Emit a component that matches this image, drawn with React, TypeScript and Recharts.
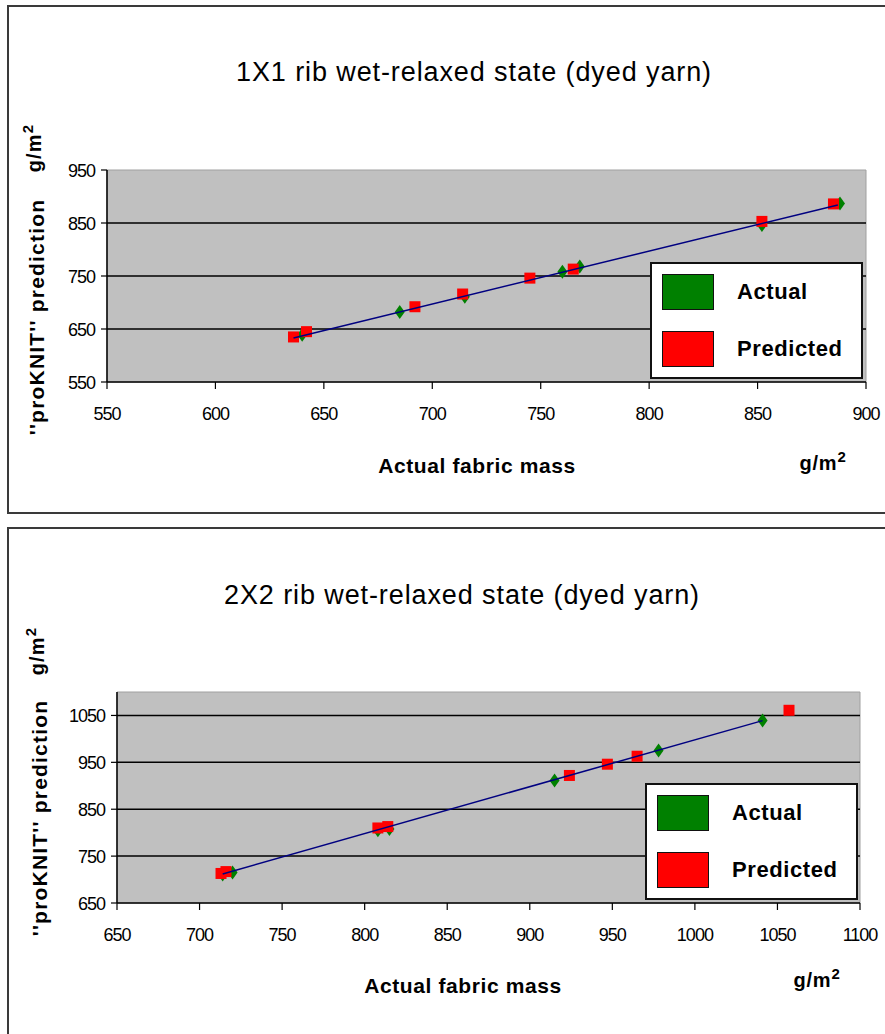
import { ScatterChart, Scatter, XAxis, YAxis, ReferenceLine, ReferenceArea, Legend } from 'recharts'

const FONT = '"Liberation Sans", Arial, sans-serif'

type Pt = { x: number; y: number }

// 1X1 rib
const ribOneTitle = '1X1 rib wet-relaxed state (dyed yarn)'
const ribOneXTicks = [550, 600, 650, 700, 750, 800, 850, 900]
const ribOneYTicks = [550, 650, 750, 850, 950]
const ribOneYTop = 950
const ribOneGrid = [650, 750, 850]
const ribOneActual: Pt[] = [
  { x: 640, y: 639 }, { x: 685, y: 682 }, { x: 715, y: 711 }, { x: 760, y: 758 },
  { x: 768, y: 768 }, { x: 852, y: 846 }, { x: 888, y: 887 },
]
const ribOnePredicted: Pt[] = [
  { x: 636, y: 635 }, { x: 642, y: 645 }, { x: 692, y: 692 }, { x: 714, y: 716 },
  { x: 745, y: 746 }, { x: 765, y: 763 }, { x: 852, y: 853 }, { x: 885, y: 886 },
]
const ribOneTrend: Pt[] = [{ x: 636, y: 633 }, { x: 887, y: 884 }]

// 2X2 rib
const ribTwoTitle = '2X2 rib wet-relaxed state (dyed yarn)'
const ribTwoXTicks = [650, 700, 750, 800, 850, 900, 950, 1000, 1050, 1100]
const ribTwoYTicks = [650, 750, 850, 950, 1050]
const ribTwoYTop = 1100
const ribTwoGrid = [750, 850, 950, 1050]
const ribTwoActual: Pt[] = [
  { x: 714, y: 711 }, { x: 720, y: 715 }, { x: 808, y: 805 }, { x: 815, y: 808 },
  { x: 915, y: 911 }, { x: 978, y: 975 }, { x: 1041, y: 1039 },
]
const ribTwoPredicted: Pt[] = [
  { x: 713, y: 713 }, { x: 716, y: 717 }, { x: 808, y: 810 }, { x: 814, y: 813 },
  { x: 924, y: 922 }, { x: 947, y: 946 }, { x: 965, y: 963 }, { x: 1057, y: 1061 },
]
const ribTwoTrend: Pt[] = [{ x: 714, y: 712 }, { x: 1041, y: 1039 }]

const X_LABEL = 'Actual fabric mass'
const Y_LABEL = "''proKNIT'' prediction"

const diamond = (p: any) => (
  <polygon points={`${p.cx},${p.cy - 7} ${p.cx + 5},${p.cy} ${p.cx},${p.cy + 7} ${p.cx - 5},${p.cy}`} fill={p.fill} />
)
const square = (p: any) => <rect x={p.cx - 5.5} y={p.cy - 5.5} width={11} height={11} fill={p.fill} />
const nothing = () => <g />

const XTick = (p: any) => (
  <text x={p.x} y={p.y} dy={13} textAnchor="middle" fontFamily={FONT} fontSize={18} letterSpacing={-1} fill="#000">
    {p.payload.value}
  </text>
)
const YTick = (p: any) => (
  <text x={p.x} y={p.y} dy={6.5} textAnchor="end" fontFamily={FONT} fontSize={18} letterSpacing={-1} fill="#000">
    {p.payload.value}
  </text>
)

const LegendBox = (props: any) => {
  const items = (props.payload || []).filter((e: any) => e.type !== 'none')
  return (
    <div style={{ width: 213, height: 117, boxSizing: 'border-box', border: '2px solid #111', background: '#fff', position: 'relative' }}>
      {items.map((e: any, i: number) => (
        <div key={e.value} style={{ position: 'absolute', left: 10, top: 9 + i * 57, height: 37, display: 'flex', alignItems: 'center' }}>
          <div style={{ width: 52, height: 36, boxSizing: 'border-box', background: e.color, border: '1.5px solid #111' }} />
          <span style={{ marginLeft: 23, fontFamily: FONT, fontWeight: 'bold', fontSize: 22, letterSpacing: 0.6, color: '#000' }}>{e.value}</span>
        </div>
      ))}
    </div>
  )
}

const Txt = ({ x, y, size, bold, spacing = 0, rotate = false, children }: any) => (
  <div
    style={{
      position: 'absolute', left: x, top: y, whiteSpace: 'nowrap', lineHeight: 1,
      transform: `translate(-50%,-50%)${rotate ? ' rotate(-90deg)' : ''}`,
      fontFamily: FONT, fontSize: size, fontWeight: bold ? 'bold' : 'normal', letterSpacing: spacing, color: '#000',
    }}
  >
    {children}
  </div>
)

const Unit = () => (
  <>g/m<span style={{ fontSize: '0.75em', position: 'relative', top: '-0.55em' }}>2</span></>
)

function RibChart({ top, height, margin, xTicks, yTicks, yTop, grid, actual, predicted, trend, legendLeft, legendTop }: any) {
  const xMin = xTicks[0], xMax = xTicks[xTicks.length - 1]
  const yMin = yTicks[0]
  return (
    <div style={{ position: 'absolute', left: 0, top }}>
      <ScatterChart width={885} height={height} margin={margin}>
        <XAxis type="number" dataKey="x" domain={[xMin, xMax]} ticks={xTicks} allowDataOverflow
          axisLine={{ stroke: '#000', strokeWidth: 1.5 }} tickLine={{ stroke: '#000', strokeWidth: 1.2 }}
          tickSize={7} tickMargin={18} tick={XTick} height={30} interval={0} />
        <YAxis type="number" dataKey="y" domain={[yMin, yTop]} ticks={yTicks} allowDataOverflow
          axisLine={{ stroke: '#000', strokeWidth: 1.5 }} tickLine={{ stroke: '#000', strokeWidth: 1.2 }}
          tickSize={6} tickMargin={6} tick={YTick} width={60} interval={0} />
        <ReferenceArea x1={xMin} x2={xMax} y1={yMin} y2={yTop} fill="#c0c0c0" fillOpacity={1} stroke="#a0a0a0" strokeWidth={1} />
        {grid.map((v: number) => (
          <ReferenceLine key={v} y={v} stroke="#000" strokeWidth={1.5} />
        ))}
        <Scatter name="Actual" data={actual} fill="#008000" shape={diamond} isAnimationActive={false} />
        <Scatter name="Predicted" data={predicted} fill="#ff0000" shape={square} isAnimationActive={false} />
        <Scatter name="trend" data={trend} fill="#000080" shape={nothing} legendType="none"
          line={{ stroke: '#000080', strokeWidth: 1.5 }} isAnimationActive={false} />
        <Legend layout="horizontal" verticalAlign="middle" align="center" content={LegendBox}
          wrapperStyle={{ left: legendLeft, top: legendTop, width: 213, height: 117 }} />
      </ScatterChart>
    </div>
  )
}

export default function App() {
  return (
    <div style={{ position: 'absolute', left: 0, top: 0, width: 885, height: 1034, overflow: 'hidden', background: '#fff' }}>
      <div style={{ position: 'absolute', left: 7, top: 5, width: 900, height: 509, boxSizing: 'border-box', border: '2px solid #3a3a3a' }} />
      <div style={{ position: 'absolute', left: 7, top: 527, width: 900, height: 520, boxSizing: 'border-box', border: '2px solid #3a3a3a' }} />

      <RibChart top={0} height={520} margin={{ top: 170, right: 19, bottom: 108, left: 47 }}
        xTicks={ribOneXTicks} yTicks={ribOneYTicks} yTop={ribOneYTop} grid={ribOneGrid}
        actual={ribOneActual} predicted={ribOnePredicted} trend={ribOneTrend}
        legendLeft={650} legendTop={262} />
      <RibChart top={522} height={512} margin={{ top: 170, right: 25, bottom: 101, left: 57 }}
        xTicks={ribTwoXTicks} yTicks={ribTwoYTicks} yTop={ribTwoYTop} grid={ribTwoGrid}
        actual={ribTwoActual} predicted={ribTwoPredicted} trend={ribTwoTrend}
        legendLeft={645} legendTop={261} />

      <Txt x={474} y={72} size={27} spacing={0.9}>{ribOneTitle}</Txt>
      <Txt x={477} y={465} size={21} bold spacing={0.6}>{X_LABEL}</Txt>
      <Txt x={823} y={463} size={20} bold spacing={0.8}><Unit /></Txt>
      <Txt x={36} y={317} size={21} bold spacing={1.2} rotate>{Y_LABEL}</Txt>
      <Txt x={34} y={148} size={20} bold spacing={1.2} rotate><Unit /></Txt>

      <Txt x={462} y={595} size={27} spacing={0.9}>{ribTwoTitle}</Txt>
      <Txt x={463} y={985} size={21} bold spacing={0.6}>{X_LABEL}</Txt>
      <Txt x={817} y={980} size={20} bold spacing={0.8}><Unit /></Txt>
      <Txt x={39} y={818} size={21} bold spacing={1.2} rotate>{Y_LABEL}</Txt>
      <Txt x={37} y={651} size={20} bold spacing={1.2} rotate><Unit /></Txt>
    </div>
  )
}
